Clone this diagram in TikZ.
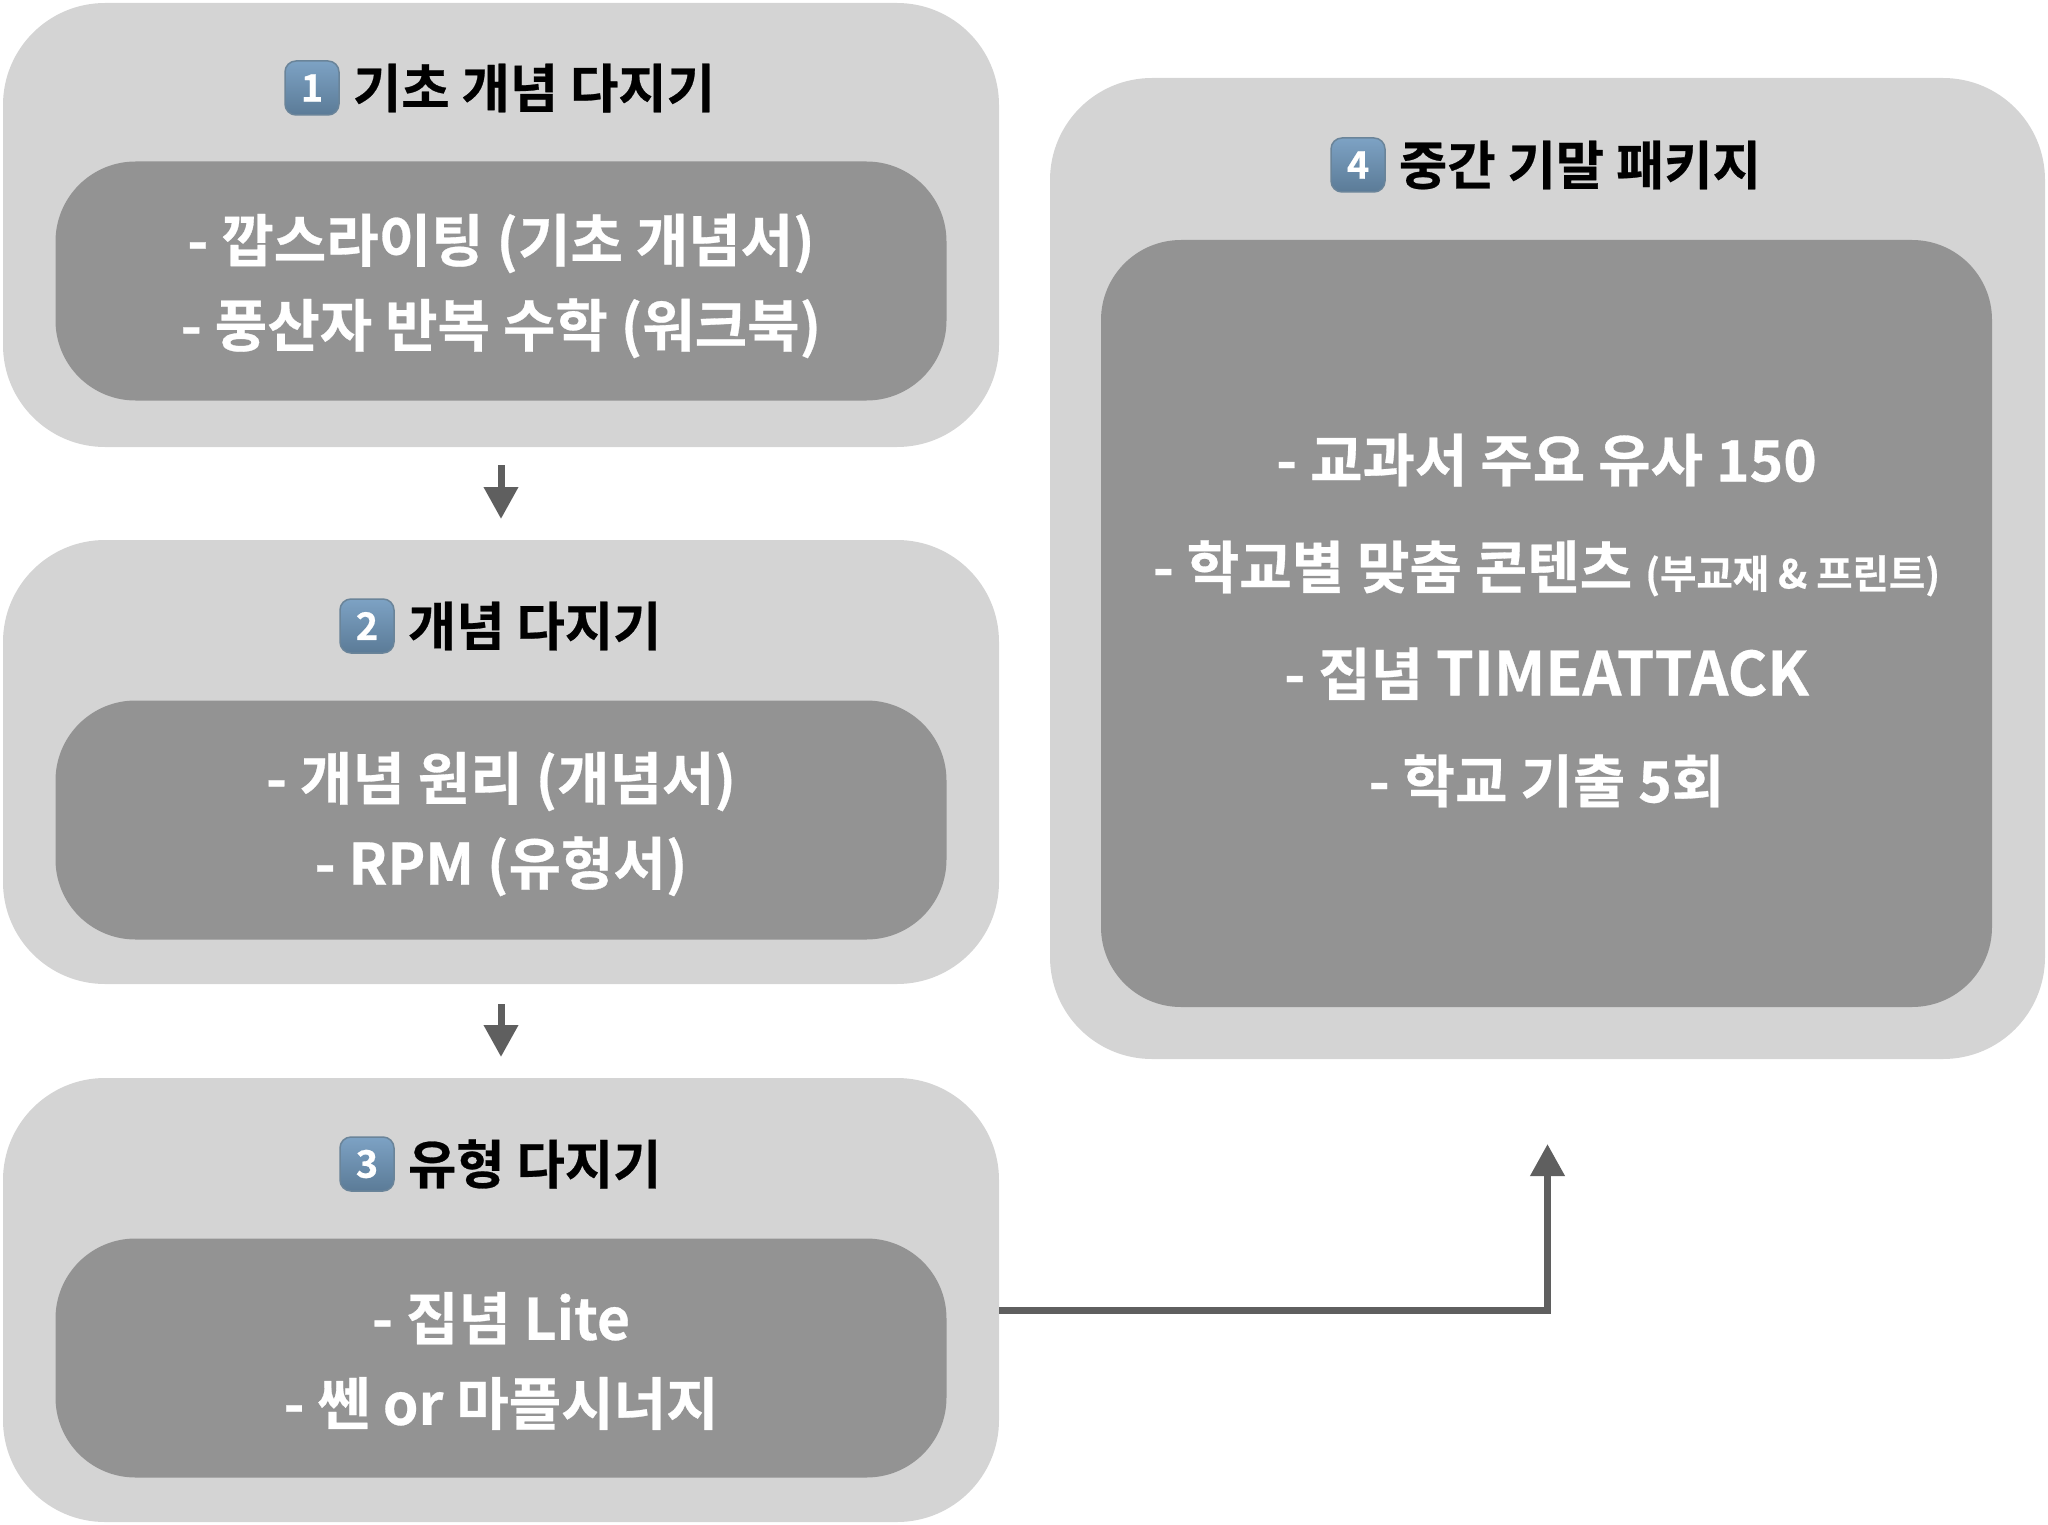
\documentclass[tikz,border=0pt]{standalone}
\usepackage{fontspec}
\setmainfont{Noto Sans CJK KR}[BoldFont={* Bold}, BoldFeatures={FakeBold=0.5}]
\usepackage{tikz}
\usetikzlibrary{arrows.meta, positioning}
\definecolor{outergray}{HTML}{D4D4D4}
\definecolor{innergray}{HTML}{939393}
\definecolor{linegray}{HTML}{5F5F5F}
\definecolor{keytop}{HTML}{7DA2C4}
\definecolor{keybottom}{HTML}{5B7B97}
\definecolor{keyedge}{HTML}{6A8499}

\begin{document}
\begin{tikzpicture}[x=1pt, y=-1pt,
      every node/.append style={outer sep=0pt, inner sep=0pt},
      outerbox/.style={fill=outergray, rounded corners=102pt, minimum width=996pt, minimum height=444pt},
      innerbox/.style={fill=innergray, rounded corners=80pt, minimum width=891pt, minimum height=239pt},
      listtext/.style={text=white, align=center, font=\fontsize{57}{85}\selectfont\bfseries},
      keycap/.style={draw=keyedge, line width=1.5pt, rounded corners=11pt, minimum size=54pt, top color=keytop, bottom color=keybottom,
        text=white, font=\fontsize{38}{38}\selectfont\bfseries},
      titletext/.style={right=14pt of #1, text=black, font=\fontsize{52.5}{52.5}\selectfont\bfseries},
      flowline/.style={draw=linegray, line width=7pt, -{Triangle[length=32pt, width=33pt]}}]
    \useasboundingbox (0,0) rectangle (2048,1525);

    \node (box1) [outerbox] at (501,225) {};
    \node (inner1) [innerbox] at (501,281) {};
    \node (list1) [listtext, yshift=-5pt] at (inner1) {- 깝스라이팅 (기초 개념서)\\- 풍산자 반복 수학 (워크북)};
    \node (key1) [keycap] at (312,88) {1};
    \node (title1) [titletext=key1] {기초 개념 다지기};

    \node (box2) [outerbox] at (501,762) {};
    \node (inner2) [innerbox] at (501,820) {};
    \node (list2) [listtext, yshift=-4pt] at (inner2) {- 개념 원리 (개념서)\\- RPM (유형서)};
    \node (key2) [keycap] at (367,626) {2};
    \node (title2) [titletext=key2] {개념 다지기};

    \node (box3) [outerbox] at (501,1300) {};
    \node (inner3) [innerbox] at (501,1358) {};
    \node (list3) [listtext, yshift=-3pt] at (inner3) {- 집념 Lite\\- 쎈 or 마플시너지};
    \node (key3) [keycap] at (367,1164) {3};
    \node (title3) [titletext=key3] {유형 다지기};

    \node (box4) [outerbox, minimum width=995pt, minimum height=981pt] at (1547.5,568.5) {};
    \node (inner4) [innerbox, minimum height=767pt] at (1546.5,623.5) {};
    \node (list4) [listtext, yshift=3pt, font=\fontsize{57}{107}\selectfont\bfseries] at (inner4)
      {- 교과서 주요 유사 150\\- 학교별 맞춤 콘텐츠 {\fontsize{39.5}{39.5}\selectfont (부교재 \& 프린트)}\\- 집념 {\fontsize{60.5}{60.5}\selectfont TIMEATTACK}\\- 학교 기출 5회};
    \node (key4) [keycap] at (1358,165) {4};
    \node (title4) [titletext=key4] {중간 기말 패키지};

    \draw[flowline] ([yshift=-18pt]box1.south) -- ([yshift=21pt]box2.north);
    \draw[flowline] ([yshift=-20pt]box2.south) -- ([yshift=21pt]box3.north);
    \draw[flowline] ([yshift=-10pt]box3.east) -| ([yshift=-85pt]box4.south);
  \end{tikzpicture}
\end{document}
